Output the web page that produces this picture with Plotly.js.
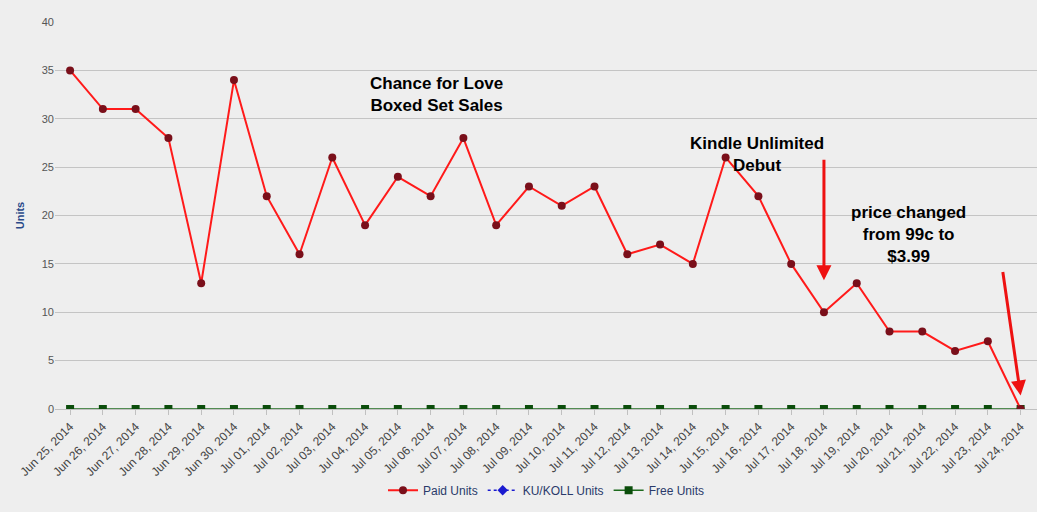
<!DOCTYPE html>
<html><head><meta charset="utf-8">
<script src="https://cdn.plot.ly/plotly-3.0.1.min.js"></script>
<style>body{margin:0;background:#eeeeee}</style></head>
<body><div id="chart" style="width:1037px;height:512px"></div>
<script>
const dates = ["Jun 25, 2014","Jun 26, 2014","Jun 27, 2014","Jun 28, 2014","Jun 29, 2014","Jun 30, 2014","Jul 01, 2014","Jul 02, 2014","Jul 03, 2014","Jul 04, 2014","Jul 05, 2014","Jul 06, 2014","Jul 07, 2014","Jul 08, 2014","Jul 09, 2014","Jul 10, 2014","Jul 11, 2014","Jul 12, 2014","Jul 13, 2014","Jul 14, 2014","Jul 15, 2014","Jul 16, 2014","Jul 17, 2014","Jul 18, 2014","Jul 19, 2014","Jul 20, 2014","Jul 21, 2014","Jul 22, 2014","Jul 23, 2014","Jul 24, 2014"];
const paidUnits = [35,31,31,28,13,34,22,16,26,19,24,22,28,19,23,21,23,16,17,15,26,22,15,10,13,8,8,6,7,0];
const kuUnits = dates.map(() => null);
const freeUnits = [0,0,0,0,0,0,0,0,0,0,0,0,0,0,0,0,0,0,0,0,0,0,0,0,0,0,0,0,0,0];
const traces = [
 {x:dates,y:freeUnits,name:"Free Units",mode:"lines+markers",line:{color:"#1e6b1e",width:1.5},marker:{symbol:"square",size:8,color:"#0b4d0b"},showlegend:false},
 {x:dates,y:paidUnits,name:"Paid Units",mode:"lines+markers",line:{color:"#ff1a1a",width:2},marker:{size:8,color:"#7a0f1a"}},
 {x:dates,y:kuUnits,name:"KU/KOLL Units",mode:"lines+markers",line:{color:"#1a1ad0",width:1.5,dash:"dot"},marker:{symbol:"diamond",size:8,color:"#1a1ad0"}},
 {x:dates,y:kuUnits,name:"Free Units",mode:"lines+markers",line:{color:"#1e6b1e",width:1.5},marker:{symbol:"square",size:8,color:"#0b4d0b"}}
];
const bold = {family:"Liberation Sans, Arial",size:17,color:"#000"};
const layout = {
 width:1037,height:512,paper_bgcolor:"#eeeeee",plot_bgcolor:"#eeeeee",
 margin:{l:55,r:0,t:22,b:103},
 font:{family:"Liberation Sans, Arial",color:"#555"},
 xaxis:{type:"category",automargin:false,range:[-0.46,29.5],tickangle:-45,tickfont:{size:12,color:"#444"},showgrid:false,ticks:"outside",ticklen:5,tickcolor:"#c0c0c0",showline:true,linecolor:"#c0c0c0"},
 yaxis:{automargin:false,range:[0,40],dtick:5,gridcolor:"#c4c4c4",tickfont:{size:11,color:"#555"},zeroline:false,
  title:{text:"<b>Units</b>",font:{size:11,color:"#2a4a8a"},standoff:14}},
 legend:{orientation:"h",x:0.5,xanchor:"center",y:-0.21,yanchor:"middle",font:{size:12,color:"#2a3a6a"},traceorder:"normal"},
 annotations:[
  {xref:"paper",yref:"paper",x:0.389,y:0.87,text:"<b>Chance for Love<br>Boxed Set Sales</b>",showarrow:false,font:bold},
  {xref:"paper",yref:"paper",x:0.785,y:0.715,text:"<b>Kindle Unlimited<br>Debut</b>",showarrow:false,font:bold},
  {xref:"paper",yref:"paper",x:0.93,y:0.45,text:"<b>price changed<br>from 99c to<br>$3.99</b>",showarrow:false,font:bold},
  {x:"Jul 18, 2014",y:13.3,ax:0,ay:-122,text:"",showarrow:true,arrowhead:2,arrowsize:1,arrowwidth:3,arrowcolor:"#ee1111"},
  {x:"Jul 24, 2014",y:1.4,ax:-18,ay:-125,text:"",showarrow:true,arrowhead:2,arrowsize:1,arrowwidth:3,arrowcolor:"#ee1111"}
 ]
};
Plotly.newPlot("chart",traces,layout,{displayModeBar:false});
</script></body></html>
